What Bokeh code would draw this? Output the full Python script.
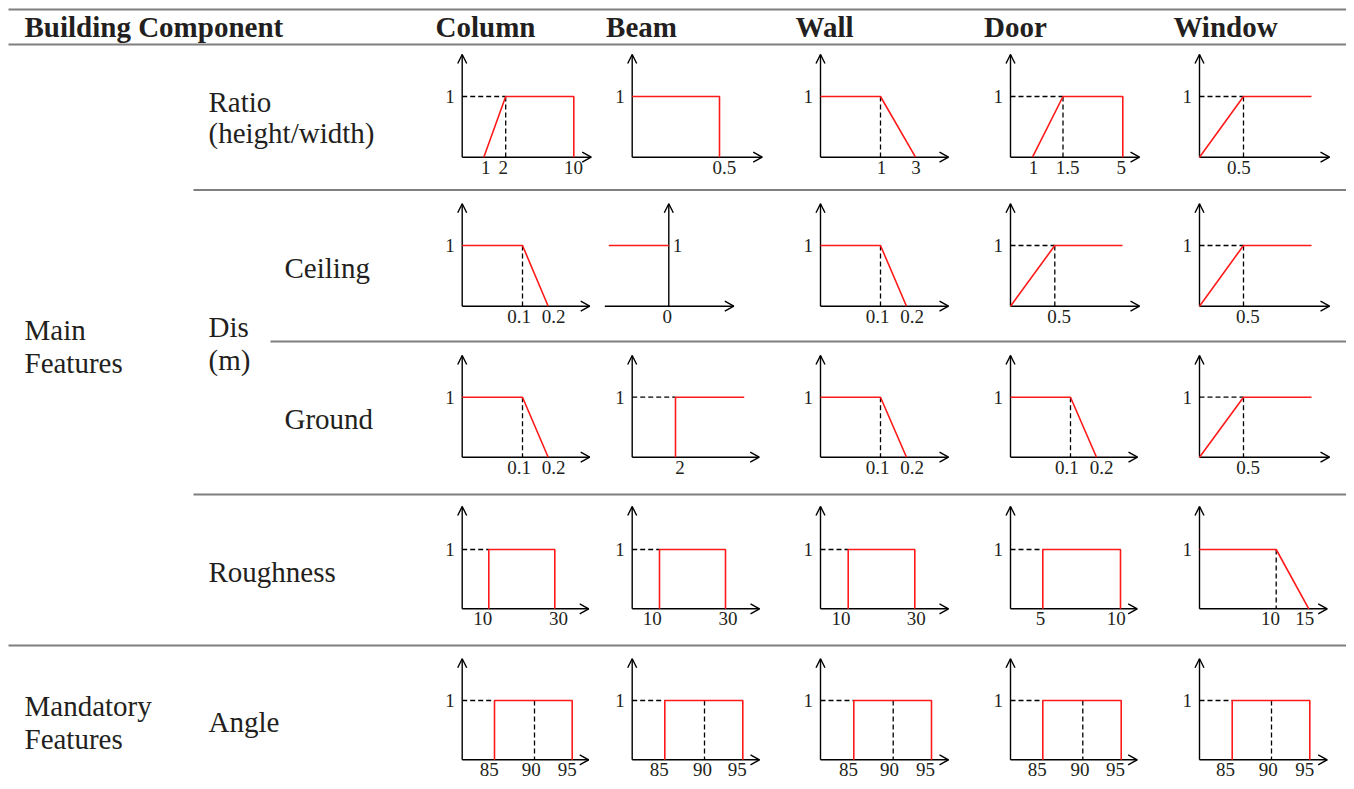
from bokeh.plotting import figure
from bokeh.models import Range1d
from bokeh.embed import file_html
from bokeh.resources import INLINE
from bokeh.core.properties import value
import numpy as np

INF = float("inf")

# ---------------- data ----------------
components = ["Column", "Beam", "Wall", "Door", "Window"]
row_labels = ["Ratio", "Ceiling", "Ground", "Roughness", "Angle"]

# membership functions: breakpoints (x) and membership degree (mu) per component
ratio_x = [[1, 2, 10, 10], [0, 0.5, 0.5], [0, 1, 3], [1, 1.5, 5, 5], [0, 0.5, INF]]
ratio_mu = [[0, 1, 1, 0], [1, 1, 0], [1, 1, 0], [0, 1, 1, 0], [0, 1, 1]]
ratio_ticks = [[1, 2, 10], [0.5], [1, 3], [1, 1.5, 5], [0.5]]
ratio_guide_h = [2, None, None, 1.5, 0.5]
ratio_guide_v = [2, None, 1, 1.5, 0.5]

ceiling_x = [[0, 0.1, 0.2], [-INF, 0], [0, 0.1, 0.2], [0, 0.5, INF], [0, 0.5, INF]]
ceiling_mu = [[1, 1, 0], [1, 1], [1, 1, 0], [0, 1, 1], [0, 1, 1]]
ceiling_ticks = [[0.1, 0.2], [0], [0.1, 0.2], [0.5], [0.5]]
ceiling_guide_h = [None, None, None, 0.5, 0.5]
ceiling_guide_v = [0.1, None, 0.1, 0.5, 0.5]

ground_x = [[0, 0.1, 0.2], [2, 2, INF], [0, 0.1, 0.2], [0, 0.1, 0.2], [0, 0.5, INF]]
ground_mu = [[1, 1, 0], [0, 1, 1], [1, 1, 0], [1, 1, 0], [0, 1, 1]]
ground_ticks = [[0.1, 0.2], [2], [0.1, 0.2], [0.1, 0.2], [0.5]]
ground_guide_h = [None, 2, None, None, 0.5]
ground_guide_v = [0.1, None, 0.1, 0.1, 0.5]

roughness_x = [[10, 10, 30, 30], [10, 10, 30, 30], [10, 10, 30, 30], [5, 5, 10, 10], [0, 10, 15]]
roughness_mu = [[0, 1, 1, 0], [0, 1, 1, 0], [0, 1, 1, 0], [0, 1, 1, 0], [1, 1, 0]]
roughness_ticks = [[10, 30], [10, 30], [10, 30], [5, 10], [10, 15]]
roughness_guide_h = [10, 10, 10, 5, None]
roughness_guide_v = [None, None, None, None, 10]

angle_x = [[85, 85, 95, 95], [85, 85, 95, 95], [85, 85, 95, 95], [85, 85, 95, 95], [85, 85, 95, 95]]
angle_mu = [[0, 1, 1, 0], [0, 1, 1, 0], [0, 1, 1, 0], [0, 1, 1, 0], [0, 1, 1, 0]]
angle_ticks = [[85, 90, 95], [85, 90, 95], [85, 90, 95], [85, 90, 95], [85, 90, 95]]
angle_guide_h = [85, 85, 85, 85, 85]
angle_guide_v = [90, 90, 90, 90, 90]

rows_x = [ratio_x, ceiling_x, ground_x, roughness_x, angle_x]
rows_mu = [ratio_mu, ceiling_mu, ground_mu, roughness_mu, angle_mu]
rows_ticks = [ratio_ticks, ceiling_ticks, ground_ticks, roughness_ticks, angle_ticks]
rows_gh = [ratio_guide_h, ceiling_guide_h, ground_guide_h, roughness_guide_h, angle_guide_h]
rows_gv = [ratio_guide_v, ceiling_guide_v, ground_guide_v, roughness_guide_v, angle_guide_v]

# ---------------- layout (schematic, not data) ----------------
W, H = 1346, 785
col_axis_x = [461.7, 631.7, 820, 1010, 1199]
row_axis_y = [156.7, 305.7, 456.7, 608.3, 759.3]
row_level_h = [60.7, 60.7, 60.0, 59.3, 59.3]
row_arrow_h = [102.7, 102.4, 101.7, 102.3, 101.0]

tick_px = [
    [[21.6, 43.5, 111.6], [87.3], [60, 95], [22, 52.5, 112.3], [44]],
    [[60.3, 86], [0], [60, 86], [44.3], [44]],
    [[60.3, 86], [43.3], [60, 86], [60, 86], [44]],
    [[26.6, 92.6], [27.3, 93.3], [27.7, 94.3], [32.3, 110], [76.7, 109.3]],
    [[32.3, 72.3, 110], [32.6, 72.3, 110.6], [33.3, 72.7, 111], [32.3, 72.3, 110.7], [32.7, 72, 110.3]],
]
label_px = [
    [[23.6, 41.1, 111.3], [92.1], [61, 95.5], [23, 57, 110.8], [39.3]],
    [[56.8, 91.3], [-1.6], [57, 91.7], [48.7], [48.3]],
    [[56.8, 91.3], [47.7], [57, 91.7], [56.3, 91], [48.5]],
    [[20.5, 96.3], [20, 95.8], [20.5, 95.8], [30, 105.8], [71, 105.3]],
    [[27, 69, 105], [27, 70.3, 105], [28, 69, 105], [26.7, 69.5, 105], [26, 68.8, 105.3]],
]
tip_px = [
    [129, 130, 128, 129, 130],
    [127.5, 65, 128, 129, 130],
    [127.5, 127, 128, 127, 130],
    [126.5, 127.3, 128, 126.7, 127.7],
    [126.5, 127.3, 128, 126.7, 127.7],
]
end_px = 112          # open right end of a function
start_px = -60        # open left end of a function
special_axis_shift = {(1, 1): 36.6}      # Beam / Ceiling: y-axis drawn at x = 0 in the middle
special_xaxis_start = {(1, 1): -64}
BIG_DY = -10          # renderer baseline correction for the 29px texts
SMALL_DY = -6.5       # and for the 19px tick labels

FONT = value("Liberation Serif")
TXT = "#231f20"
RED = "#ff1a1a"

p = figure(width=W, height=H, output_backend="svg", toolbar_location=None,
           x_range=Range1d(0, W), y_range=Range1d(H, 0),
           min_border=0, outline_line_color=None, background_fill_color="white")
p.xaxis.visible = False
p.yaxis.visible = False
p.xgrid.visible = False
p.ygrid.visible = False

# table rules
rule_x0 = [8, 8, 193, 270, 193, 8]
rule_x1 = [1346, 1346, 1346, 1346, 1346, 1346]
rule_y = [9, 44, 189.5, 341, 494, 645]
p.segment(x0=rule_x0, x1=rule_x1, y0=rule_y, y1=rule_y, line_color="#7f7f7f", line_width=2)

red_xs, red_ys = [], []
ax_xs, ax_ys = [], []
dash_xs, dash_ys = [], []
lab_x, lab_y, lab_t, lab_align = [], [], [], []

for r in range(5):
    ay = row_axis_y[r]
    lv = row_level_h[r]
    top = ay - row_arrow_h[r]
    for c in range(5):
        ax = col_axis_x[c] + special_axis_shift.get((r, c), 0)
        ticks = rows_ticks[r][c]
        anchors = {0: 0.0}
        for tv, tp in zip(ticks, tick_px[r][c]):
            anchors[tv] = tp
        keys = sorted(anchors)
        vals = [anchors[k] for k in keys]

        def px(v):
            if v == INF:
                return ax + end_px
            if v == -INF:
                return ax + start_px
            return ax + float(np.interp(v, keys, vals))

        def py(m):
            return ay - m * lv

        # membership function
        red_xs.append([px(v) for v in rows_x[r][c]])
        red_ys.append([py(m) for m in rows_mu[r][c]])

        # axes with open arrow heads
        xs0 = ax + special_xaxis_start.get((r, c), 0)
        tip = ax + tip_px[r][c]
        ax_xs += [[xs0, tip], [ax, ax], [tip - 9, tip, tip - 9], [ax - 4.5, ax, ax + 4.5]]
        ax_ys += [[ay, ay], [ay, top], [ay - 5, ay, ay + 5], [top + 9, top, top + 9]]

        # dashed guides
        gh = rows_gh[r][c]
        gv = rows_gv[r][c]
        if gh is not None:
            dash_xs.append([ax, px(gh)])
            dash_ys.append([py(1), py(1)])
        if gv is not None:
            dash_xs.append([px(gv), px(gv)])
            dash_ys.append([py(1), ay])

        # tick labels
        for tv, lp in zip(ticks, label_px[r][c]):
            lab_x.append(ax + lp)
            lab_y.append(ay + 16.5 + SMALL_DY)
            lab_t.append(f"{tv:g}")
            lab_align.append("center")
        # "1" on y axis
        if (r, c) in special_axis_shift:
            lab_x.append(ax + 4)
            lab_align.append("left")
        else:
            lab_x.append(ax - 7.5)
            lab_align.append("right")
        lab_y.append(py(1) + 6.5 + SMALL_DY)
        lab_t.append("1")

p.multi_line(xs=dash_xs, ys=dash_ys, line_color="black", line_width=1.3, line_dash="5 3")
p.multi_line(xs=ax_xs, ys=ax_ys, line_color="black", line_width=1.4)
p.multi_line(xs=red_xs, ys=red_ys, line_color=RED, line_width=1.6)

p.text(x=lab_x, y=lab_y, text=lab_t, text_align=lab_align, text_baseline="alphabetic",
       text_font=FONT, text_font_size=value("19px"), text_color=TXT)

# header
head_x = [485, 641, 824, 1015, 1225]
head_y = 36 + BIG_DY
p.text(x=[24], y=[head_y], text=["Building Component"], text_align="left", text_baseline="alphabetic",
       text_font=FONT, text_font_size=value("29px"), text_font_style="bold", text_color=TXT)
p.text(x=head_x, y=[head_y] * 5, text=components, text_align="center", text_baseline="alphabetic",
       text_font=FONT, text_font_size=value("29px"), text_font_style="bold", text_color=TXT)

# row headers
rh_text = ["Ratio", "(height/width)", "Ceiling", "Dis", "(m)", "Main", "Features",
           "Ground", "Roughness", "Mandatory", "Features", "Angle"]
rh_x = [208, 208, 284, 208, 208, 24, 24, 284, 208, 24, 24, 208]
rh_y = [111, 142, 277, 336, 369, 339, 372, 428, 581, 715, 748, 731]
p.text(x=rh_x, y=[v + BIG_DY for v in rh_y], text=rh_text, text_align="left", text_baseline="alphabetic",
       text_font=FONT, text_font_size=value("29px"), text_color=TXT)

open("out.html", "w").write(file_html(p, INLINE))
